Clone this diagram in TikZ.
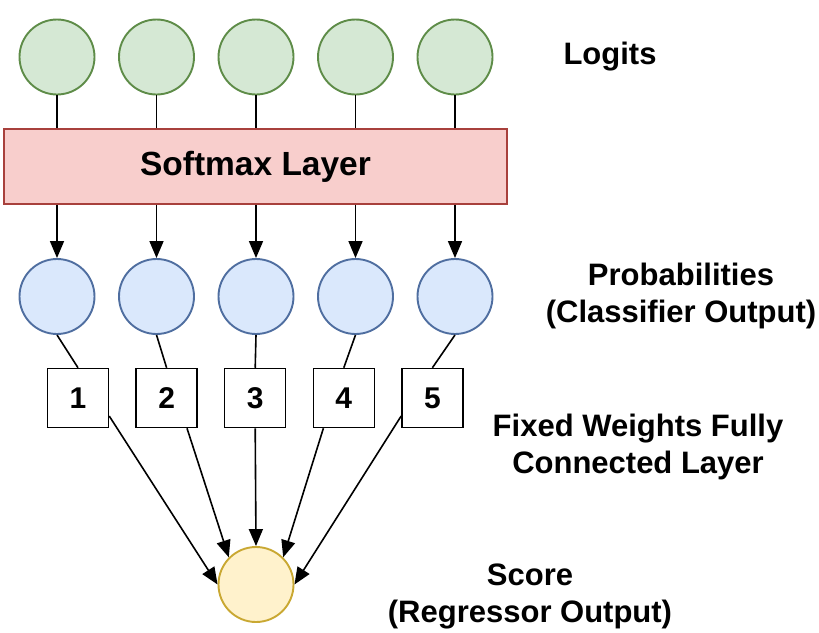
\documentclass[tikz,border=0pt]{standalone}
\usepackage{fontspec}
\setmainfont{Liberation Sans}
\usetikzlibrary{arrows.meta}
\definecolor{logitfill}{HTML}{D5E8D4}
\definecolor{logitline}{HTML}{5E8C48}
\definecolor{probfill}{HTML}{DAE8FC}
\definecolor{probline}{HTML}{4F6EA0}
\definecolor{smfill}{HTML}{F8CECC}
\definecolor{smline}{HTML}{A8403C}
\definecolor{scorefill}{HTML}{FFF2CC}
\definecolor{scoreline}{HTML}{C9A832}

\begin{document}
\begin{tikzpicture}[x=1pt,y=-1pt,
  unit/.style={circle,line width=1.9pt,minimum size=75pt,inner sep=0pt},
  logit/.style={unit,draw=logitline,fill=logitfill},
  prob/.style={unit,draw=probline,fill=probfill},
  wbox/.style={draw,line width=1.5pt,fill=white,minimum width=61pt,minimum height=59pt,inner sep=0pt,font=\fontsize{30}{32}\selectfont\bfseries},
  lbl/.style={align=center,font=\fontsize{31}{37}\selectfont\bfseries},
  conn/.style={line width=1.6pt},
  arr/.style={conn,-{Triangle[width=14pt,length=17pt]}}]
\useasboundingbox (0,0) rectangle (819,632);
% layers
\node[draw=smline,fill=smfill,line width=1.9pt,minimum width=503pt,minimum height=75pt,font=\fontsize{33.5}{36}\selectfont\bfseries] (sm) at (255.5,166.5) {Softmax Layer};
\node[unit,draw=scoreline,fill=scorefill] (score) at (256,584.5) {};
\foreach \i in {1,...,5}{
  \node[logit] (g\i) at (99.5*\i-42.5,57) {};
  \node[prob] (p\i) at (99.5*\i-42.5,296.5) {};
  \node[wbox] (w\i) at (88.6*\i-10.6,398) {\i};
}
% connectors
\foreach \i in {1,...,5}{
  \draw[conn] (g\i.south) -- (g\i.south |- sm.north);
  \draw[arr] (p\i.north |- sm.south) -- (p\i.north);
  \draw[conn] (p\i.south) -- (w\i.north);
}
\foreach \i/\a/\b in {1/-30/west,2/-56/135,3/south/north,4/-124/45,5/-150/east}
  \draw[arr] (w\i.\a) -- (score.\b);
% labels
\node[lbl] (lgt) at (610,57) {Logits};
\node[lbl] (prb) at (681,296) {Probabilities\\(Classifier Output)};
\node[lbl] (fcl) at (638,447) {Fixed Weights Fully\\Connected Layer};
\node[lbl] (scr) at (530,596) {Score\\(Regressor Output)};
\end{tikzpicture}
\end{document}
